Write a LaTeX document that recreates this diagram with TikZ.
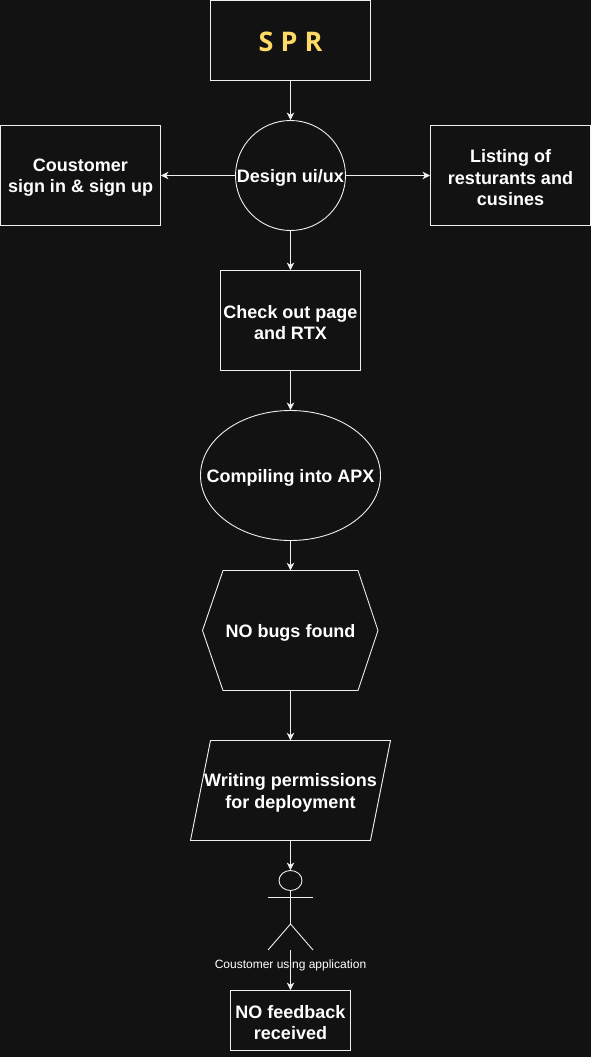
\documentclass[tikz,border=0pt]{standalone}
\usepackage{fontspec}
\setmainfont{Liberation Sans}
\newfontfamily\sprfont{Open Sans}
\usepackage{xcolor}
\usetikzlibrary{arrows.meta,shapes.geometric,calc}
\definecolor{bgdark}{HTML}{121212}
\definecolor{wline}{HTML}{F0F0F0}
\definecolor{gold}{HTML}{FFD966}
\tikzset{
  box/.style={draw=wline, line width=0.9pt, inner sep=0pt},
  round/.style={box, ellipse},
  hold/.style={inner sep=0pt},
  word/.style={align=center, inner sep=0pt, text=white, yshift=-2.2pt,
    font=\fontsize{18}{21.7}\selectfont\bfseries},
  txt/.style={label={[word]center:{#1}}},
  edge/.style={draw=wline, line width=0.9pt},
  flow/.style={edge, -{Stealth[length=7.5pt,width=7.5pt,inset=2.2pt]}},
}

\begin{document}
\begin{tikzpicture}[x=1pt,y=-1pt]
  \useasboundingbox[fill=bgdark] (0,0) rectangle (591,1057);

  % top row
  \node[box, minimum width=160pt, minimum height=80pt,
    txt={\raisebox{1.5pt}{\fontsize{27}{27}\selectfont\sprfont\bfseries\textcolor{gold}{S P R}}}] (spr) at (290.5,40.5) {};
  \node[round, minimum width=110pt, minimum height=110pt, txt={Design ui/ux}] (design) at (290.5,175.5) {};
  \node[box, minimum width=160pt, minimum height=100pt, txt={Coustomer\\sign in \& sign up}] (signin) at (80.5,175.5) {};
  \node[box, minimum width=160pt, minimum height=100pt, txt={Listing of\\resturants and\\cusines}] (listing) at (510.5,175.5) {};

  \node[box, minimum width=140pt, minimum height=100pt, txt={Check out page\\and RTX}] (checkout) at (290.5,320.5) {};
  \node[round, minimum width=180pt, minimum height=130pt, txt={Compiling into APX}] (compile) at (290.5,475.5) {};

  % hexagon and slanted box are drawn round empty nodes
  \draw[edge] (223,570.5) -- (358,570.5) -- (378,630.5) -- (358,690.5) -- (223,690.5) -- (202.5,630.5) -- cycle;
  \node[hold, minimum width=176pt, minimum height=120pt, txt={NO bugs found}] (nobugs) at (290.5,630.5) {};
  \draw[edge] (210.5,740.5) -- (390.5,740.5) -- (370.5,840.5) -- (190.5,840.5) -- cycle;
  \node[hold, minimum width=180pt, minimum height=100pt, txt={Writing permissions\\for deployment}] (permit) at (290.5,790.5) {};

  % actor
  \node[round, minimum width=23pt, minimum height=20pt] (head) at (290.5,880.5) {};
  \coordinate (neck) at (290.5,924);
  \coordinate (foot) at (290.5,950);
  \draw[edge] (head.south) -- (neck);
  \draw[edge] (268,897.5) -- (313,897.5);
  \draw[edge] (268,950) -- (neck) -- (313,950);
  \node[text=white, inner sep=0pt, font=\fontsize{12}{14}\selectfont] (actor) at (290.5,965) {Coustomer using application};

  \node[box, minimum width=120pt, minimum height=60pt, txt={NO feedback\\received}] (feedback) at (290.5,1020.5) {};

  % connectors
  \draw[flow] (spr) -- (design);
  \draw[flow] (design) -- (signin);
  \draw[flow] (design) -- (listing);
  \draw[flow] (design) -- (checkout);
  \draw[flow] (checkout) -- (compile);
  \draw[flow] (compile) -- (nobugs);
  \draw[flow] (nobugs) -- (permit.north -| nobugs);
  \draw[flow] (permit.south -| nobugs) -- (head);
  \draw[flow] (foot) -- (feedback);
\end{tikzpicture}
\end{document}
